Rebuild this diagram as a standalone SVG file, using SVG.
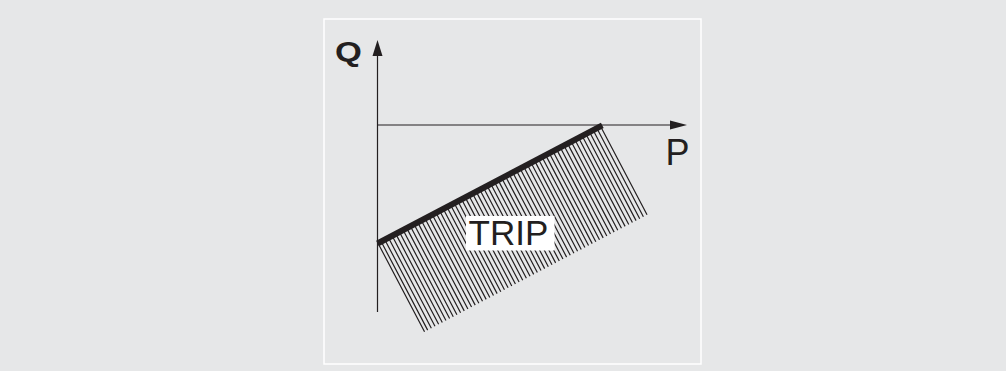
<svg xmlns="http://www.w3.org/2000/svg" width="1006" height="371" viewBox="0 0 1006 371">
  <style>
    .axis { stroke: #231f20; stroke-width: 1.2; fill: none; }
    .head { fill: #231f20; }
    .hatch { stroke: #231f20; stroke-width: 1.2; fill: none; }
    .lbl { font-family: "Liberation Sans", Arial, sans-serif; fill: #231f20; }
  </style>
  <rect x="0" y="0" width="1006" height="371" fill="#e6e7e8"/>
  <rect id="panel" x="324" y="19" width="377" height="345" fill="#e6e7e8" stroke="#ffffff" stroke-width="1.5"/>

  <g id="trip-region" transform="translate(377.5,243.5) rotate(-27.72)">
    <path class="hatch" d="M0.6 0v100M4.13 0v100M8.26 0v100M12.39 0v100M16.52 0v100M20.65 0v100M24.78 0v100M28.91 0v100M33.04 0v100M37.17 0v100M41.3 0v100M45.43 0v100M49.56 0v100M53.69 0v100M57.82 0v100M61.95 0v100M66.08 0v100M70.21 0v100M74.34 0v100M78.47 0v100M82.6 0v100M86.73 0v100M90.86 0v100M94.99 0v100M99.12 0v100M103.25 0v100M107.38 0v100M111.51 0v100M115.64 0v100M119.77 0v100M123.9 0v100M128.03 0v100M132.16 0v100M136.29 0v100M140.42 0v100M144.55 0v100M148.68 0v100M152.81 0v100M156.94 0v100M161.07 0v100M165.2 0v100M169.33 0v100M173.46 0v100M177.59 0v100M181.72 0v100M185.85 0v100M189.98 0v100M194.11 0v100M198.24 0v100M202.37 0v100M206.5 0v100M210.63 0v100M214.76 0v100M218.89 0v100M223.02 0v100M227.15 0v100M231.28 0v100M235.41 0v100M239.54 0v100M243.67 0v100M247.8 0v100M251.93 0v100"/>
  </g>

  <g id="connectors">
    <line class="axis" x1="377.5" y1="54" x2="377.5" y2="312"/>
    <polygon class="head" points="377.5,40 372.5,56 382.5,56"/>
    <line class="axis" x1="377.5" y1="125" x2="672" y2="125"/>
    <polygon class="head" points="687,125 670,120.5 670,129.5"/>
  </g>

  <g id="boundary">
    <line x1="377.5" y1="243.5" x2="602.3" y2="125.3" stroke="#231f20" stroke-width="6"/>
  </g>

  <g id="label-trip">
    <rect x="466" y="216" width="88.5" height="34.5" fill="#ffffff"/>
    <text class="lbl" x="468.5" y="245" font-size="35">TRIP</text>
  </g>

  <g id="label-q">
    <text class="lbl" x="0" y="0" font-size="27" font-weight="bold" transform="translate(335,61.3) scale(1.28,1)">Q</text>
  </g>
  <g id="label-p">
    <text class="lbl" x="665.5" y="165" font-size="36">P</text>
  </g>
</svg>
